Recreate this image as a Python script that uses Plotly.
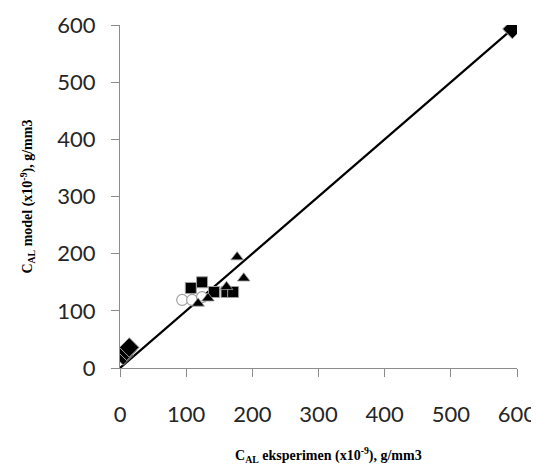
import plotly.graph_objects as go

diamond_x = [5, 10, 14, 593]
diamond_y = [22, 30, 36, 593]
square_x = [107, 124, 142, 161, 171]
square_y = [140, 150, 133, 133, 133]
triangle_x = [118, 133, 161, 177, 187]
triangle_y = [113, 122, 142, 194, 157]
circle_x = [94, 109, 124]
circle_y = [119, 119, 124]
fit_x = [0, 593]
fit_y = [0, 593]

x_ticks = [0, 100, 200, 300, 400, 500, 600]
y_ticks = [0, 100, 200, 300, 400, 500, 600]

fig = go.Figure()
fig.add_trace(go.Scatter(x=fit_x, y=fit_y, mode="lines",
                         line=dict(color="black", width=2.2), showlegend=False))
fig.add_trace(go.Scatter(x=circle_x, y=circle_y, mode="markers",
                         marker=dict(symbol="circle", size=11, color="white",
                                     line=dict(color="#a0a0a0", width=1.2)), showlegend=False))
fig.add_trace(go.Scatter(x=square_x, y=square_y, mode="markers",
                         marker=dict(symbol="square", size=11, color="black",
                                     line=dict(color="#a0a0a0", width=1)), showlegend=False))
fig.add_trace(go.Scatter(x=triangle_x, y=triangle_y, mode="markers",
                         marker=dict(symbol="triangle-up", size=11, color="black",
                                     line=dict(color="#a0a0a0", width=0.8)), showlegend=False))
fig.add_trace(go.Scatter(x=diamond_x, y=diamond_y, mode="markers",
                         marker=dict(symbol="diamond", size=15, color="black",
                                     line=dict(color="#a0a0a0", width=1)), showlegend=False))

axis_common = dict(showgrid=False, zeroline=False, showline=True, automargin=False,
                   linecolor="#8c8c8c", linewidth=1, ticks="outside",
                   tickcolor="#8c8c8c", ticklen=8, tickwidth=1,
                   tickfont=dict(family="Lato, Open Sans, sans-serif", size=22, color="#262626"))

title_font = dict(family="Liberation Serif, serif", size=14, color="black")

# the page body adds an 8px margin, so the figure is sized 8px smaller
fig.update_layout(
    width=531, height=460,
    margin=dict(l=112, r=22, t=17, b=100, autoexpand=False),
    plot_bgcolor="white", paper_bgcolor="white",
    xaxis=dict(range=[0, 600], tickvals=x_ticks, ticklabelstandoff=19, **axis_common),
    yaxis=dict(range=[0, 600], tickvals=y_ticks, ticklabelstandoff=11, **axis_common),
    annotations=[
        dict(text="<b>C<sub>AL</sub> eksperimen (x10<sup>-9</sup>), g/mm3</b>",
             xref="paper", yref="paper", x=0.526, y=-0.254,
             xanchor="center", yanchor="middle", showarrow=False, font=title_font),
        dict(text="<b>C<sub>AL</sub> model (x10<sup>-9</sup>), g/mm3</b>",
             xref="paper", yref="paper", x=-0.234, y=0.5, textangle=-90,
             xanchor="center", yanchor="middle", showarrow=False, font=title_font),
    ],
)

fig.write_html("out.html")
